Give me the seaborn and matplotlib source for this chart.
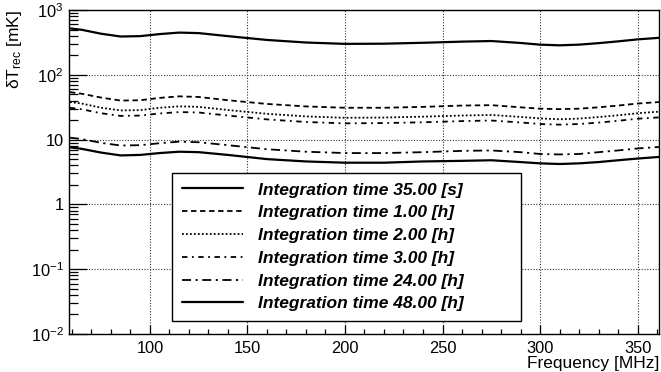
import numpy as np
import pandas as pd
import matplotlib
matplotlib.use("Agg")
import matplotlib.pyplot as plt
import matplotlib.ticker as mticker
from matplotlib.lines import Line2D
import seaborn as sns

freq = [59, 65, 75, 85, 95, 105, 115, 125, 140, 160, 180, 200, 220, 240, 260, 275, 290, 300, 310, 320, 330, 340, 350, 361]
t_35s = [520, 495, 430, 390, 395, 425, 448, 440, 395, 345, 315, 300, 302, 312, 325, 332, 310, 292, 285, 292, 308, 328, 352, 372]
t_1h = [54, 51, 44.5, 40, 40.5, 44, 46.5, 45.5, 40.5, 35.5, 32.5, 31, 31, 32, 33.5, 34, 31.5, 30, 29.5, 30, 31.5, 33.5, 36, 38]
t_2h = [38, 36, 31, 28.2, 28.5, 31, 32.6, 32, 28.6, 25, 22.8, 21.7, 21.9, 22.6, 23.5, 24, 22.4, 21.2, 20.6, 21.1, 22.3, 23.7, 25.5, 27]
t_3h = [31, 29.4, 25.5, 23.2, 23.5, 25.3, 26.6, 26.2, 23.5, 20.5, 18.7, 17.8, 18, 18.5, 19.3, 19.7, 18.4, 17.4, 17, 17.4, 18.3, 19.5, 21, 22]
t_24h = [10.7, 10.2, 8.9, 8.1, 8.2, 8.8, 9.3, 9.1, 8.2, 7.1, 6.5, 6.2, 6.2, 6.4, 6.7, 6.8, 6.4, 6.0, 5.9, 6.0, 6.4, 6.8, 7.3, 7.7]
t_48h = [7.6, 7.2, 6.3, 5.7, 5.8, 6.2, 6.5, 6.4, 5.8, 5.0, 4.6, 4.4, 4.4, 4.6, 4.7, 4.8, 4.5, 4.3, 4.2, 4.3, 4.5, 4.8, 5.1, 5.4]

labels = ["Integration time 35.00 [s]", "Integration time 1.00 [h]",
          "Integration time 2.00 [h]", "Integration time 3.00 [h]",
          "Integration time 24.00 [h]", "Integration time 48.00 [h]"]
series = [t_35s, t_1h, t_2h, t_3h, t_24h, t_48h]
xticks = [100, 150, 200, 250, 300, 350]
yticks = [0.01, 0.1, 1, 10, 100, 1000]
ytick_labels = [r"$\mathregular{10^{-2}}$", r"$\mathregular{10^{-1}}$", "1", "10",
                r"$\mathregular{10^{2}}$", r"$\mathregular{10^{3}}$"]

sns.set_theme(style="white")
plt.rcParams["font.family"] = ["Liberation Sans", "DejaVu Sans"]
plt.rcParams["mathtext.fontset"] = "custom"
plt.rcParams["mathtext.rm"] = "Liberation Sans"
plt.rcParams["mathtext.it"] = "Liberation Sans:italic"
plt.rcParams["text.color"] = "black"
plt.rcParams["axes.labelcolor"] = "black"

styles = [
    dict(linestyle="-", linewidth=1.6),
    dict(linestyle=(0, (3, 2)), linewidth=1.3),
    dict(linestyle=(0, (1, 1.2)), linewidth=1.3),
    dict(linestyle=(0, (3, 2.5, 1, 2.5)), linewidth=1.3),
    dict(linestyle=(0, (5, 2.5, 1.2, 2.5)), linewidth=1.3),
    dict(linestyle="-", linewidth=1.6),
]

fig = plt.figure(figsize=(6.61, 3.72), dpi=100)
ax = fig.add_axes([69 / 661, 1 - 334 / 372, 590 / 661, 324 / 372])

handles = []
for vals, lab, st in zip(series, labels, styles):
    df = pd.DataFrame({"f": freq, "v": vals})
    sns.lineplot(data=df, x="f", y="v", ax=ax, color="black", legend=False, **st)
    handles.append(Line2D([], [], color="black", **st))

ax.set_yscale("log")
ax.set_xlim(58.5, 361)
ax.set_ylim(0.01, 1000)
ax.set_xticks(xticks)
ax.set_xticklabels([str(t) for t in xticks])
ax.xaxis.set_minor_locator(mticker.MultipleLocator(10))
ax.set_yticks(yticks)
ax.set_yticklabels(ytick_labels)
ax.yaxis.set_minor_locator(mticker.LogLocator(base=10, subs=np.arange(2, 10)))
ax.yaxis.set_minor_formatter(mticker.NullFormatter())

ax.tick_params(axis="both", which="both", direction="in", colors="black",
               labelcolor="black", labelsize=11.8, width=0.9)
ax.tick_params(axis="y", which="major", length=13, pad=4)
ax.tick_params(axis="y", which="minor", length=6.5)
ax.tick_params(axis="x", which="major", length=6.5, pad=5)
ax.tick_params(axis="x", which="minor", length=3.6)
ax.tick_params(left=True, bottom=True, right=False, top=False)
ax.tick_params(axis="y", which="minor", left=True)
ax.tick_params(axis="x", which="minor", bottom=True)

ax.grid(True, which="major", linestyle=(0, (1, 1.5)), color="#333333", linewidth=0.8)
for sp in ax.spines.values():
    sp.set_color("black")
    sp.set_linewidth(1.0)

ax.set_xlabel("Frequency [MHz]", loc="right", fontsize=12.5, labelpad=0, color="black")
ax.set_ylabel(r"δT$_{\mathregular{rec}}$ [mK]", loc="top", fontsize=12.5, labelpad=5, color="black")

leg = ax.legend(handles, labels, loc="lower left",
                bbox_to_anchor=(0.175, 0.04, 0.591, 0.46), mode="expand",
                borderaxespad=0, frameon=True, fancybox=False, shadow=False,
                prop=dict(size=12.5, weight="bold", style="italic"),
                handlelength=3.5, handletextpad=0.9, labelspacing=0.44,
                borderpad=0.55)
leg.get_frame().set_edgecolor("black")
leg.get_frame().set_linewidth(1.0)
leg.get_frame().set_alpha(1)

fig.savefig("out.png", dpi=100)
